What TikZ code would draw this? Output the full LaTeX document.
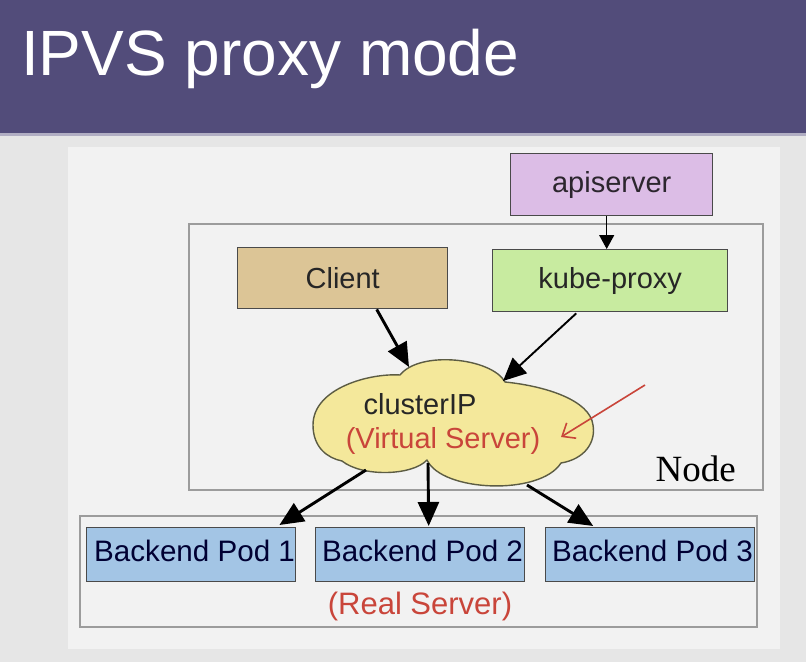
\documentclass[tikz,border=0pt]{standalone}
\usepackage{fontspec}
\setmainfont{Liberation Sans}
\newfontfamily\serifnode{Liberation Serif}
\usetikzlibrary{arrows.meta,calc}
\definecolor{hdr}{HTML}{524C7A}
\definecolor{bggray}{HTML}{E6E6E6}
\definecolor{panel}{HTML}{F2F2F2}
\definecolor{apic}{HTML}{DCBDE6}
\definecolor{clientc}{HTML}{DCC596}
\definecolor{kpc}{HTML}{C8EBA0}
\definecolor{podc}{HTML}{A3C5E5}
\definecolor{cloudc}{HTML}{F4E89B}
\definecolor{redt}{HTML}{C9453A}
\definecolor{frame}{HTML}{9C9C9C}
\definecolor{edge}{HTML}{4A4A4A}
\tikzset{
  box/.style={draw=edge, line width=1.4pt, inner sep=0pt, anchor=north west},
  lbl/.style={font=\fontsize{29}{32}\selectfont, text=black!85, inner sep=0pt},
  podlbl/.style={font=\fontsize{29.6}{32}\selectfont, text=black!80!blue, inner sep=0pt, anchor=west},
  arr/.style={line width=2.9pt, -{Triangle[length=24pt,width=21pt]}},
  thinarr/.style={line width=1.9pt, -{Triangle[length=23pt,width=21pt]}},
}
\begin{document}
\begin{tikzpicture}[x=1pt,y=-1pt]
\useasboundingbox (0,0) rectangle (806,662);
% background
\fill[bggray] (0,0) rectangle (806,662);
\fill[panel] (68,147) rectangle (780,649);
\fill[hdr] (0,0) rectangle (806,133);
\fill[hdr!45!white] (0,133) rectangle (806,136);
\node[anchor=base west, inner sep=0pt, text=white, font=\fontsize{64}{70}\selectfont] (title) at (21,75) {IPVS proxy mode};
% frames
\draw[frame, line width=1.2pt] (189,224) rectangle (763,490);
\draw[frame, line width=1.2pt] (80,516) rectangle (757,627);
% boxes
\node[box, fill=apic, minimum width=202pt, minimum height=62pt] (api) at (510,153) {};
\node[lbl, text=black!80!apic] at (api.center) {apiserver};
\node[box, fill=clientc, minimum width=210pt, minimum height=61pt] (client) at (237,247) {};
\node[lbl] at (client.center) {Client};
\node[box, fill=kpc, minimum width=235pt, minimum height=62pt] (kp) at (492,249) {};
\node[lbl] at (kp.center) {kube-proxy};
% cloud
\draw[edge!90!yellow, line width=1.4pt, fill=cloudc, line join=round]
  (400,375) .. controls (370,373) and (313,388) .. (313,425)
  .. controls (313,447) and (327,458) .. (342,461)
  .. controls (362,477) and (412,476) .. (427,460)
  .. controls (442,492) and (540,496) .. (561,463)
  .. controls (585,459) and (596,442) .. (593,425)
  .. controls (590,400) and (545,386) .. (505,382)
  .. controls (492,358) and (420,350) .. (400,375) -- cycle;
\coordinate (cTopL) at (409,367);
\coordinate (cTopR) at (503,381);
\coordinate (cBotL) at (366,470);
\coordinate (cBot) at (428,463);
\coordinate (cBotR) at (527,485);
\node[lbl] (cip) at (420,404) {clusterIP};
\node[lbl, text=redt] (vs) at (443,441) {(Virtual Server)};
\node[anchor=base east, inner sep=0pt, font=\serifnode\fontsize{37}{40}\selectfont] (nodelbl) at (736,481) {Node};
% pods
\node[box, fill=podc, minimum width=209pt, minimum height=54pt] (pod1) at (86,527) {};
\node[box, fill=podc, minimum width=209pt, minimum height=54pt] (pod2) at (315,527) {};
\node[box, fill=podc, minimum width=209pt, minimum height=54pt] (pod3) at (545,527) {};
\node[podlbl] at ($(pod1.west)+(8,-4)$) {Backend Pod 1};
\node[podlbl] at ($(pod2.west)+(7,-4)$) {Backend Pod 2};
\node[podlbl] at ($(pod3.west)+(7,-4)$) {Backend Pod 3};
\node[lbl, text=redt, font=\fontsize{31}{34}\selectfont] (rs) at (420,606) {(Real Server)};
% arrows
\draw[line width=1.3pt, -{Triangle[length=14pt,width=15pt]}] ($(api.south)+(-5,0)$) -- ($(kp.north)+(-3.5,0)$);
\draw[arr] ($(client.south)+(34,0)$) -- (cTopL);
\draw[thinarr] ($(kp.south)+(-34,1)$) -- (cTopR);
\draw[arr] (cBotL) -- ($(pod1.north east)+(-17,-2)$);
\draw[arr] (cBot) -- ($(pod2.north)+(8.5,-1)$);
\draw[arr] (cBotR) -- ($(pod3.north)+(-57,-1)$);
\coordinate (redstart) at (645,385);
\draw[redt, line width=1.6pt, -{Straight Barb[length=11pt,width=18pt]}] (redstart) -- (561,437);
\end{tikzpicture}
\end{document}
